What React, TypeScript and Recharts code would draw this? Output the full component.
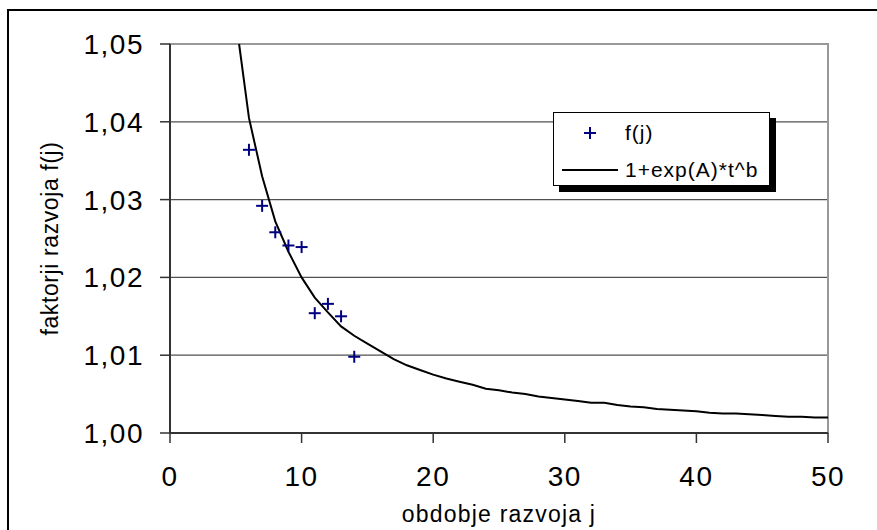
import {
  CartesianGrid,
  Legend,
  ReferenceArea,
  Scatter,
  ScatterChart,
  XAxis,
  YAxis,
} from "recharts";

// observed development factors f(j)
const jPeriods = [6, 7, 8, 9, 10, 11, 12, 13, 14];
const fFactors = [1.0364, 1.0292, 1.0258, 1.0241, 1.0239, 1.0154, 1.0166, 1.015, 1.0098];

// fitted curve 1+exp(A)*t^b
const fitT = [
  5.25, 6, 7, 8, 9, 10, 11, 12, 13, 14, 15, 16, 17, 18, 19, 20, 21, 22, 23, 24, 25, 26, 27,
  28, 29, 30, 31, 32, 33, 34, 35, 36, 37, 38, 39, 40, 41, 42, 43, 44, 45, 46, 47, 48, 49, 50,
];
const fitValues = [
  1.05, 1.0405, 1.033, 1.0272, 1.0233, 1.02, 1.0174, 1.0155, 1.0137, 1.0125, 1.0115, 1.0105,
  1.0095, 1.0087, 1.0081, 1.0075, 1.007, 1.0066, 1.0062, 1.0057, 1.0055, 1.0052, 1.005, 1.0047,
  1.0045, 1.0043, 1.0041, 1.0039, 1.0039, 1.0036, 1.0034, 1.0033, 1.0031, 1.003, 1.0029, 1.0028,
  1.0026, 1.0025, 1.0025, 1.0024, 1.0023, 1.0022, 1.0021, 1.0021, 1.002, 1.002,
];

const xTicks = [0, 10, 20, 30, 40, 50];
const yTicks = [1, 1.01, 1.02, 1.03, 1.04, 1.05];

const pointsName = "f(j)";
const fitName = "1+exp(A)*t^b";

const points = jPeriods.map((t, i) => ({ t, f: fFactors[i] }));
const fit = fitT.map((t, i) => ({ t, f: fitValues[i] }));

const FONT = "'Liberation Sans', Arial, sans-serif";
const NAVY = "#000080";

const Plus = ({ cx, cy }: any) => (
  <g stroke={NAVY} strokeWidth={2}>
    <line x1={cx - 6} y1={cy} x2={cx + 6} y2={cy} />
    <line x1={cx} y1={cy - 6} x2={cx} y2={cy + 6} />
  </g>
);

const renderLegend = (props: any) => {
  const entries = props.payload || [];
  return (
    <div
      style={{
        width: 217,
        height: 74,
        boxSizing: "border-box",
        border: "1px solid #000",
        background: "#fff",
        boxShadow: "6px 6px 0 #000",
      }}
    >
      <svg width={215} height={72} style={{ display: "block" }}>
        {entries.map((e: any) => {
          const isFit = e.value === fitName;
          const y = isFit ? 57 : 20;
          return (
            <g key={e.value}>
              {isFit ? (
                <line x1={8} y1={y} x2={64} y2={y} stroke="#000" strokeWidth={2} />
              ) : (
                <Plus cx={36} cy={y} />
              )}
              <text
                x={71}
                y={y + 7}
                fontSize={21}
                letterSpacing={1}
                fontFamily={FONT}
                fill="#000"
              >
                {e.value}
              </text>
            </g>
          );
        })}
      </svg>
    </div>
  );
};

export default function App() {
  return (
    <div
      style={{
        position: "absolute",
        left: 0,
        top: 0,
        width: 877,
        height: 530,
        overflow: "hidden",
        background: "#fff",
        fontFamily: FONT,
      }}
    >
      <div
        style={{
          position: "absolute",
          left: 7,
          top: 9,
          width: 1000,
          height: 1000,
          borderLeft: "2px solid #000",
          borderTop: "2px solid #000",
        }}
      />
      <ScatterChart
        width={877}
        height={530}
        margin={{ top: 44, right: 49, bottom: 37, left: 0 }}
        style={{ position: "absolute", left: 0, top: 0 }}
      >
        <CartesianGrid vertical={false} stroke="#505050" strokeWidth={1.3} />
        <ReferenceArea
          x1={0}
          x2={50}
          y1={1}
          y2={1.05}
          fill="none"
          fillOpacity={0}
          stroke="#999"
          strokeWidth={2}
        />
        <XAxis
          type="number"
          dataKey="t"
          domain={[0, 50]}
          ticks={xTicks}
          height={60}
          tickSize={10}
          tickMargin={23}
          axisLine={{ stroke: "#333", strokeWidth: 2 }}
          tickLine={{ stroke: "#333", strokeWidth: 1.5 }}
          tick={{ fill: "#000", fontSize: 28, letterSpacing: 1.5, fontFamily: FONT }}
          label={{
            value: "obdobje razvoja j",
            position: "insideBottom",
            offset: -29,
            fill: "#000",
            fontSize: 23,
            letterSpacing: 1.2,
            fontFamily: FONT,
          }}
        />
        <YAxis
          type="number"
          dataKey="f"
          domain={[1, 1.05]}
          ticks={yTicks}
          width={170}
          tickSize={10}
          tickMargin={16}
          axisLine={{ stroke: "#333", strokeWidth: 2 }}
          tickLine={{ stroke: "#333", strokeWidth: 1.5 }}
          tick={{ fill: "#000", fontSize: 28, letterSpacing: 1.5, fontFamily: FONT }}
          tickFormatter={(v: number) => v.toFixed(2).replace(".", ",")}
          label={{
            value: "faktorji razvoja f(j)",
            angle: -90,
            position: "insideLeft",
            offset: 50,
            fill: "#000",
            fontSize: 23,
            letterSpacing: 0.6,
            fontFamily: FONT,
            style: { textAnchor: "middle" },
          }}
        />
        <Scatter
          name={fitName}
          data={fit}
          line={{ stroke: "#000", strokeWidth: 2 }}
          lineType="joint"
          shape={() => <g />}
          fill="#000"
          isAnimationActive={false}
        />
        <Scatter
          name={pointsName}
          data={points}
          shape={(p: any) => <Plus cx={p.cx} cy={p.cy} />}
          fill={NAVY}
          isAnimationActive={false}
        />
        <Legend
          layout="horizontal"
          verticalAlign="middle"
          align="center"
          content={renderLegend}
          wrapperStyle={{ left: 553, top: 112, width: 217, height: 74 }}
        />
      </ScatterChart>
    </div>
  );
}
